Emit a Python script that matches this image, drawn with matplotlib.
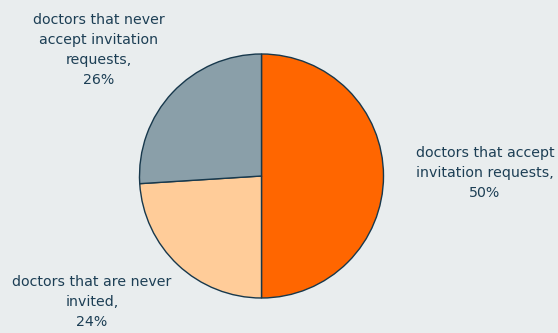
import matplotlib.pyplot as plt

labels = ['doctors that accept\ninvitation requests,\n50%',
          'doctors that are never\ninvited,\n24%',
          'doctors that never\naccept invitation\nrequests,\n26%']
values = [50, 24, 26]
colors = ['#FF6600', '#FFCC99', '#8A9FA9']

bg = '#E9EDEE'
txt = '#1D3F55'

fig = plt.figure(figsize=(5.58, 3.33), dpi=100, facecolor=bg)
ax = fig.add_axes([139.5 / 558, 35 / 333, 244 / 558, 244 / 333])
ax.set_facecolor(bg)
ax.pie(values, colors=colors, startangle=90, counterclock=False,
       wedgeprops=dict(edgecolor='#17384C', linewidth=1.0))
ax.set_aspect('equal')
ax.set_xlim(-1, 1)
ax.set_ylim(-1, 1)
ax.axis('off')

# label centres in pixels (x, y from top)
pos = [(485, 173), (92, 302), (99, 50)]
for lab, (px, py) in zip(labels, pos):
    fig.text(px / 558, 1 - py / 333, lab, ha='center', va='center',
             fontsize=10.2, color=txt, linespacing=1.55)

fig.savefig('out.png', dpi=100, facecolor=bg)
